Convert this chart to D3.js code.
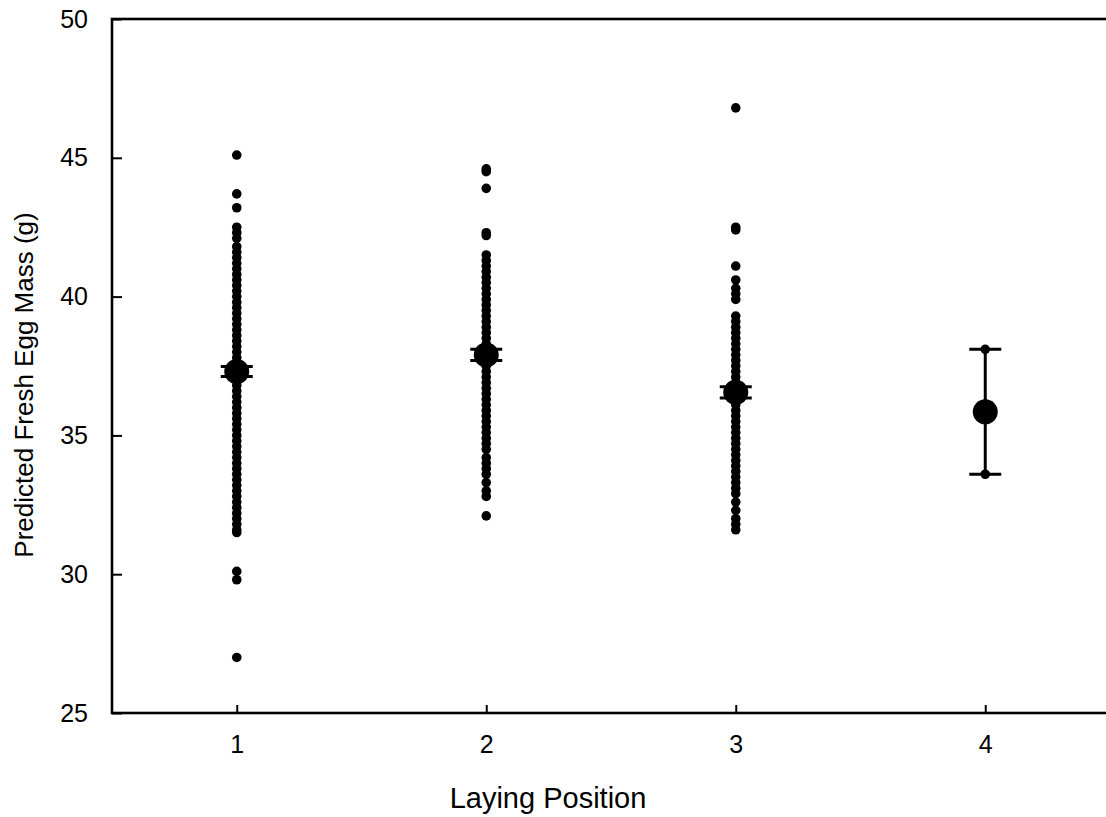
<!DOCTYPE html>
<html>
<head>
<meta charset="utf-8">
<script src="https://cdn.jsdelivr.net/npm/d3@7"></script>
<style>
  body { margin: 0; background: #fff; }
  svg text { font-family: "Liberation Sans", Arial, sans-serif; fill: #000; }
</style>
</head>
<body>
<div id="chart"></div>
<script>
// laying positions on the x axis
var positions = [1, 2, 3, 4];

// individual egg masses (g), one list per laying position
var eggs1 = [45.1, 43.7, 43.2, 42.5, 42.3, 42.1, 41.8, 41.6, 41.4, 41.2, 41.0, 40.8,
  40.6, 40.4, 40.2, 40.0, 39.8, 39.6, 39.4, 39.2, 39.0, 38.8, 38.6, 38.4, 38.2, 38.0,
  37.8, 37.6, 37.4, 37.2, 37.0, 36.8, 36.6, 36.4, 36.2, 36.0, 35.8, 35.6, 35.4, 35.2,
  35.0, 34.8, 34.6, 34.4, 34.2, 34.0, 33.8, 33.6, 33.4, 33.2, 33.0, 32.8, 32.6, 32.4,
  32.2, 32.0, 31.8, 31.6, 31.5, 30.1, 29.8, 27.0];
var eggs2 = [44.6, 44.5, 43.9, 42.3, 42.2, 41.5, 41.3, 41.1, 40.9, 40.7, 40.5, 40.3,
  40.1, 39.9, 39.7, 39.5, 39.3, 39.1, 38.9, 38.7, 38.5, 38.3, 38.1, 37.9, 37.7, 37.5,
  37.3, 37.1, 36.9, 36.7, 36.5, 36.3, 36.1, 35.9, 35.7, 35.5, 35.3, 35.1, 34.9, 34.7,
  34.5, 34.2, 34.0, 33.8, 33.6, 33.3, 33.0, 32.8, 32.1];
var eggs3 = [46.8, 42.5, 42.4, 41.1, 40.6, 40.3, 40.1, 39.9, 39.3, 39.1, 38.9, 38.7,
  38.5, 38.3, 38.1, 37.9, 37.7, 37.5, 37.3, 37.1, 36.9, 36.7, 36.5, 36.3, 36.1, 35.9,
  35.7, 35.5, 35.3, 35.1, 34.9, 34.7, 34.5, 34.3, 34.1, 33.9, 33.7, 33.5, 33.3, 33.1,
  32.9, 32.6, 32.3, 32.0, 31.8, 31.6];
var eggs4 = [38.1, 33.6];

// mean and standard error per laying position
var means = [37.3, 37.9, 36.55, 35.85];
var errors = [0.18, 0.2, 0.2, 2.25];

var yTicks = [25, 30, 35, 40, 45, 50];

var W = 1106, H = 817;
var margin = { left: 112, right: -4, top: 19, bottom: 104 };

var svg = d3.select("#chart").append("svg")
  .attr("width", W).attr("height", H);

var x = d3.scaleLinear().domain([0.5, 4.5]).range([margin.left, W - margin.right]);
var y = d3.scaleLinear().domain([25, 50]).range([H - margin.bottom, margin.top]);

// frame (left, bottom, top)
svg.append("rect")
  .attr("x", x(0.5)).attr("y", y(50))
  .attr("width", x(4.5) - x(0.5)).attr("height", y(25) - y(50))
  .attr("fill", "none").attr("stroke", "#000").attr("stroke-width", 2.6);

var gx = svg.append("g")
  .attr("transform", "translate(0," + y(25) + ")")
  .call(d3.axisBottom(x).tickValues(positions).tickSizeInner(-8).tickSizeOuter(0)
    .tickPadding(22).tickFormat(d3.format("d")));
var gy = svg.append("g")
  .attr("transform", "translate(" + x(0.5) + ",0)")
  .call(d3.axisLeft(y).tickValues(yTicks).tickSizeInner(-10).tickSizeOuter(0)
    .tickPadding(24).tickFormat(d3.format("d")));

[gx, gy].forEach(function (g) {
  g.select(".domain").remove();
  g.attr("font-size", null).attr("font-family", null);
  g.selectAll(".tick line").attr("stroke", "#000").attr("stroke-width", 2);
  g.selectAll(".tick text").style("font-size", "25px");
});

// data points
var groups = [eggs1, eggs2, eggs3, eggs4];
groups.forEach(function (vals, i) {
  svg.append("g").selectAll("circle")
    .data(vals).enter().append("circle")
    .attr("cx", x(positions[i]))
    .attr("cy", function (d) { return y(d); })
    .attr("r", 4.8)
    .attr("fill", "#000");
});

// error bars and means
var capHalf = 16;
positions.forEach(function (p, i) {
  var cx = x(p), hi = y(means[i] + errors[i]), lo = y(means[i] - errors[i]);
  var g = svg.append("g").attr("stroke", "#000").attr("stroke-width", 3);
  g.append("line").attr("x1", cx).attr("x2", cx).attr("y1", hi).attr("y2", lo);
  g.append("line").attr("x1", cx - capHalf).attr("x2", cx + capHalf).attr("y1", hi).attr("y2", hi);
  g.append("line").attr("x1", cx - capHalf).attr("x2", cx + capHalf).attr("y1", lo).attr("y2", lo);
  svg.append("circle").attr("cx", cx).attr("cy", y(means[i])).attr("r", 12.5).attr("fill", "#000");
});

// axis titles
svg.append("text")
  .attr("x", 548).attr("y", 808)
  .attr("text-anchor", "middle")
  .style("font-size", "29px")
  .text("Laying Position");

svg.append("text")
  .attr("transform", "translate(33," + 385 + ") rotate(-90)")
  .attr("text-anchor", "middle")
  .style("font-size", "26px")
  .text("Predicted Fresh Egg Mass (g)");
</script>
</body>
</html>
